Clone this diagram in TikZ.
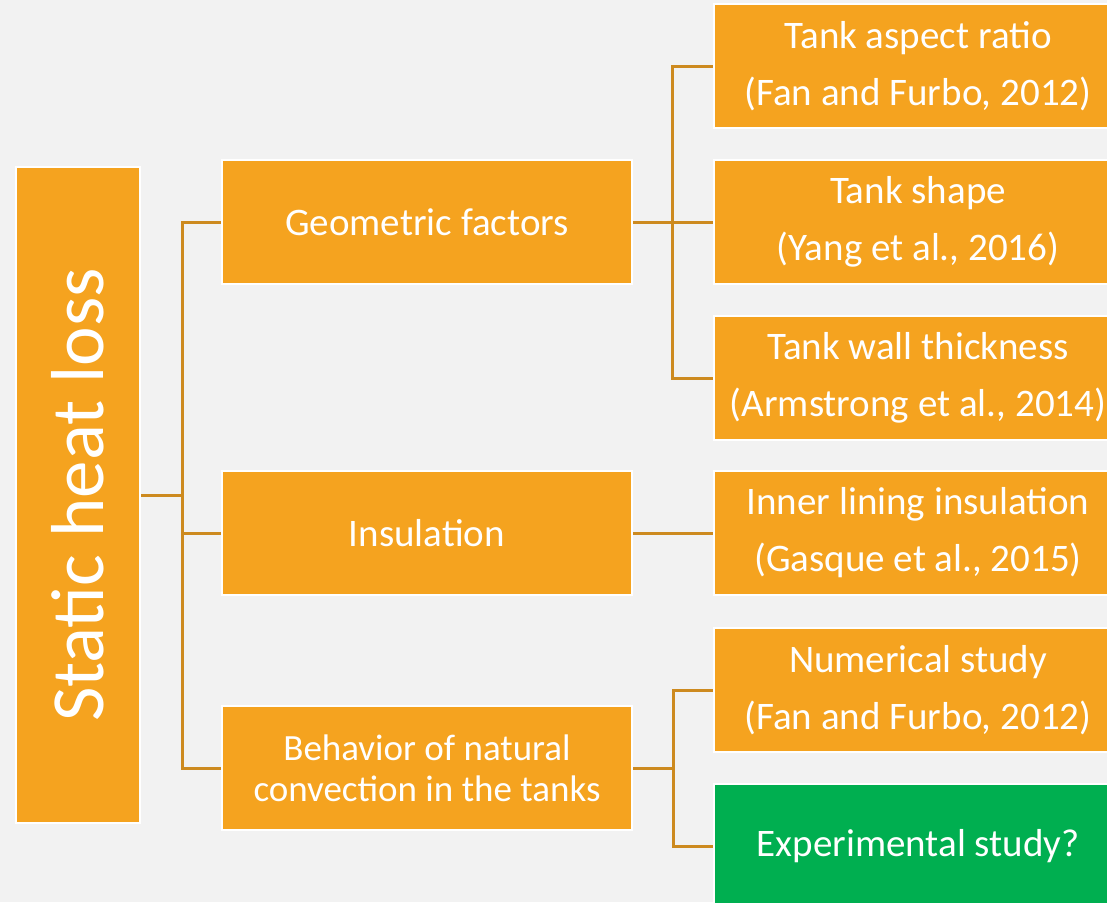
\documentclass[tikz,border=0pt]{standalone}
\usepackage{fontspec}
\setmainfont{Carlito}
\usetikzlibrary{backgrounds}

\definecolor{boxorange}{HTML}{F5A31F}
\definecolor{boxgreen}{HTML}{00AF50}
\definecolor{linkbrown}{HTML}{CD8A1F}
\definecolor{slidegray}{HTML}{F2F2F2}

\begin{document}
\begin{tikzpicture}[x=1pt,y=-1pt,
    box/.style={fill=boxorange,draw=white,line width=2pt,text=white,align=center,inner sep=0pt,minimum height=124pt},
    branch/.style={box,minimum width=410pt,font=\fontsize{39}{46}\selectfont},
    leaf/.style={box,minimum width=408pt,anchor=west,font=\fontsize{39}{57}\selectfont},
    link/.style={draw=linkbrown,line width=3pt}]

  \useasboundingbox (0,0) rectangle (1107,902);

  % root
  \node[box,minimum width=124pt,minimum height=656pt,font=\fontsize{75}{80}\selectfont] (root) at (78,495) {\rotatebox{90}{Static heat loss}};

  % middle level
  \node[branch] (geo) at (427,222) {Geometric factors};
  \node[branch] (ins) at (427,533) {Insulation};
  \node[branch,font=\fontsize{37}{41}\selectfont] (beh) at (427,768) {Behavior of natural\\convection in the tanks};

  % right level
  \foreach \nm/\y/\txt in {aspect/66/{Tank aspect ratio\\(Fan and Furbo, 2012)},
      tshape/222/{Tank shape\\(Yang et al., 2016)},
      wall/378/{Tank wall thickness\\(Armstrong et al., 2014)},
      lining/533/{Inner lining insulation\\(Gasque et al., 2015)},
      num/690/{Numerical study\\(Fan and Furbo, 2012)}}
    \node[leaf] (\nm) at (713,\y) {\txt};
  \node[leaf,fill=boxgreen] (exp) at (713,846) {Experimental study?};

  % connectors
  \begin{scope}[on background layer]
    \fill[slidegray] (0,0) rectangle (1107,902);
    \draw[link] (root.east) -- ++(41,0) coordinate (rootjoin);
    \foreach \nm in {geo,ins,beh}
      \draw[link] (\nm.west) -| (rootjoin);
    \draw[link] (geo.east) -- (tshape.west);
    \draw[link] (aspect.west) -- ++(-41,0) |- (wall.west);
    \draw[link] (ins.east) -- (lining.west);
    \draw[link] (beh.east) -- ++(40,0) coordinate (behjoin);
    \draw[link] (num.west) -| (behjoin) |- (exp.west);
  \end{scope}

\end{tikzpicture}
\end{document}
